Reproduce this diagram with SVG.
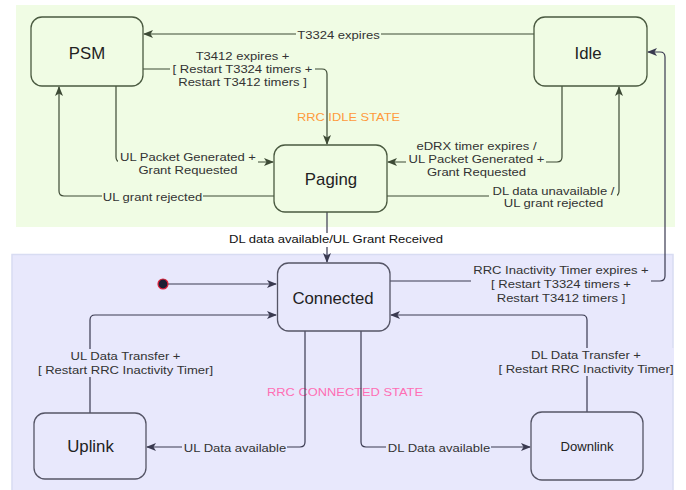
<svg xmlns="http://www.w3.org/2000/svg" width="686" height="490" viewBox="0 0 686 490">
<defs>
<style>
.area-g{fill:#F0FCE4;stroke:none}
.area-b{fill:#E8E8FC;stroke:#D8DCF2;stroke-width:1.5}
.node-g{fill:#F0FCE4;stroke:#4A5A40;stroke-width:1.3}
.node-b{fill:#E8E8FC;stroke:#555566;stroke-width:1.3}
.e-g{fill:none;stroke:#3D4A35;stroke-width:1.2;marker-end:url(#arrG)}
.e-b{fill:none;stroke:#3A3A50;stroke-width:1.2;marker-end:url(#arrB)}
.nl{font-family:"Liberation Sans",Arial,sans-serif;font-size:16px;fill:#222;text-anchor:middle}
.el{font-family:"Liberation Sans",Arial,sans-serif;font-size:11px;fill:#333;text-anchor:middle}
.bg-g{fill:#F0FCE4}
.bg-b{fill:#E8E8FC}
.bg-w{fill:#FFFFFF}
</style>
<marker id="arrG" viewBox="0 0 10 8" refX="9" refY="4" markerWidth="10" markerHeight="8" markerUnits="userSpaceOnUse" orient="auto">
<path d="M0,0 L10,4 L0,8 L2.5,4 z" fill="#3D4A35"/>
</marker>
<marker id="arrB" viewBox="0 0 10 8" refX="9" refY="4" markerWidth="10" markerHeight="8" markerUnits="userSpaceOnUse" orient="auto">
<path d="M0,0 L10,4 L0,8 L2.5,4 z" fill="#3A3A50"/>
</marker>
</defs>
<rect width="686" height="490" fill="#FFFFFF"/>
<g id="areas">
<rect class="area-g" x="16" y="5" width="659" height="222"/>
<rect class="area-b" x="12" y="254.5" width="661" height="240"/>
<text transform="translate(348.5,121) scale(1.17,1)" x="0" y="0" class="el" style="fill:#FF9A3C">RRC IDLE STATE</text>
<text transform="translate(345,396) scale(1.17,1)" x="0" y="0" class="el" style="fill:#FF6EB4">RRC CONNECTED STATE</text>
</g>
<g id="connectors">
<path id="e1" class="e-g" d="M534,34 H144"/>
<path id="e2" class="e-g" d="M143,69 H322 Q327,69 327,74 V144"/>
<path id="e3" class="e-g" d="M116,86 V157 Q116,162 121,162 H273"/>
<path id="e4" class="e-g" d="M274,196 H64 Q59,196 59,191 V87"/>
<path id="e5" class="e-g" d="M562,86 V157 Q562,162 557,162 H388"/>
<path id="e6" class="e-g" d="M387,196 H614 Q619,196 619,191 V87"/>
<path id="e7" class="e-b" d="M327,212 V262"/>
<path id="e8" class="e-b" d="M390,281 H660 Q665,281 665,276 V57 Q665,52 660,52 H648"/>
<path id="e9" class="e-b" d="M168,284 H276"/>
<path id="e10" class="e-b" d="M90,413 V320 Q90,315 95,315 H276"/>
<path id="e11" class="e-b" d="M305,331 V442 Q305,447 300,447 H147"/>
<path id="e12" class="e-b" d="M361,331 V442 Q361,447 366,447 H530"/>
<path id="e13" class="e-b" d="M587,412 V320 Q587,315 582,315 H391"/>
<circle cx="163" cy="284" r="5" fill="#1C1F33" stroke="#E0203A" stroke-width="1.2"/>
<g id="labels">
<rect class="bg-g" x="296" y="28" width="85" height="13"/>
<text class="el" transform="translate(338.5,38.5) scale(1.185,1)">T3324 expires</text>
<rect class="bg-g" x="170" y="49" width="145" height="40"/>
<text class="el" transform="translate(242.5,59.5) scale(1.185,1)"><tspan x="0" y="0">T3412 expires +</tspan><tspan x="0" y="13.5">[ Restart T3324 timers +</tspan><tspan x="0" y="27">Restart T3412 timers ]</tspan></text>
<rect class="bg-g" x="118" y="150" width="140" height="28"/>
<text class="el" transform="translate(188,160.5) scale(1.185,1)"><tspan x="0" y="0">UL Packet Generated +</tspan><tspan x="0" y="13.5">Grant Requested</tspan></text>
<rect class="bg-g" x="102" y="190" width="101" height="13"/>
<text class="el" transform="translate(152.5,200.5) scale(1.185,1)">UL grant rejected</text>
<rect class="bg-g" x="406" y="139" width="140" height="40"/>
<text class="el" transform="translate(476.5,149.5) scale(1.185,1)"><tspan x="0" y="0">eDRX timer expires /</tspan><tspan x="0" y="13.3">UL Packet Generated +</tspan><tspan x="0" y="26.6">Grant Requested</tspan></text>
<rect class="bg-g" x="489" y="186" width="128" height="25"/>
<text class="el" transform="translate(553.5,194.5) scale(1.185,1)"><tspan x="0" y="0">DL data unavailable /</tspan><tspan x="0" y="13">UL grant rejected</tspan></text>
<rect class="bg-w" x="227" y="233" width="218" height="14"/>
<text class="el" transform="translate(336,243) scale(1.185,1)" style="fill:#111">DL data available/UL Grant Received</text>
<rect class="bg-b" x="471" y="264" width="180" height="41"/>
<text class="el" transform="translate(561,274) scale(1.185,1)"><tspan x="0" y="0">RRC Inactivity Timer expires +</tspan><tspan x="0" y="14">[ Restart T3324 timers +</tspan><tspan x="0" y="28">Restart T3412 timers ]</tspan></text>
<rect class="bg-b" x="37" y="349" width="179" height="28"/>
<text class="el" transform="translate(125.5,360) scale(1.185,1)"><tspan x="0" y="0">UL Data Transfer +</tspan><tspan x="0" y="14">[ Restart RRC Inactivity Timer]</tspan></text>
<rect class="bg-b" x="182" y="441" width="105" height="13"/>
<text class="el" transform="translate(235,452) scale(1.185,1)">UL Data available</text>
<rect class="bg-b" x="386" y="441" width="105" height="13"/>
<text class="el" transform="translate(439,452) scale(1.185,1)">DL Data available</text>
<rect class="bg-b" x="498" y="348" width="176" height="28"/>
<text class="el" transform="translate(586,359) scale(1.185,1)"><tspan x="0" y="0">DL Data Transfer +</tspan><tspan x="0" y="14">[ Restart RRC Inactivity Timer]</tspan></text>
</g>
</g>
<g id="node-psm">
<rect class="node-g" x="31" y="17" width="112" height="69" rx="11"/>
<text class="nl" transform="translate(87,58.7) scale(1.05,1)">PSM</text>
</g>
<g id="node-idle">
<rect class="node-g" x="534" y="17" width="113" height="69" rx="11"/>
<text class="nl" transform="translate(588,58.7) scale(1.05,1)">Idle</text>
</g>
<g id="node-paging">
<rect class="node-g" x="274" y="145" width="113" height="67" rx="11"/>
<text class="nl" transform="translate(331,185) scale(1.05,1)">Paging</text>
</g>
<g id="node-connected">
<rect class="node-b" x="277.5" y="263" width="112.5" height="68" rx="11"/>
<text class="nl" transform="translate(333,304) scale(1.05,1)">Connected</text>
</g>
<g id="node-uplink">
<rect class="node-b" x="34" y="413" width="112" height="66" rx="11"/>
<text class="nl" transform="translate(90.5,452) scale(1.05,1)">Uplink</text>
</g>
<g id="node-downlink">
<rect class="node-b" x="531" y="412" width="112" height="68" rx="11"/>
<text class="nl" transform="translate(587,451) scale(1.05,1)" style="font-size:12.5px">Downlink</text>
</g>
</svg>
